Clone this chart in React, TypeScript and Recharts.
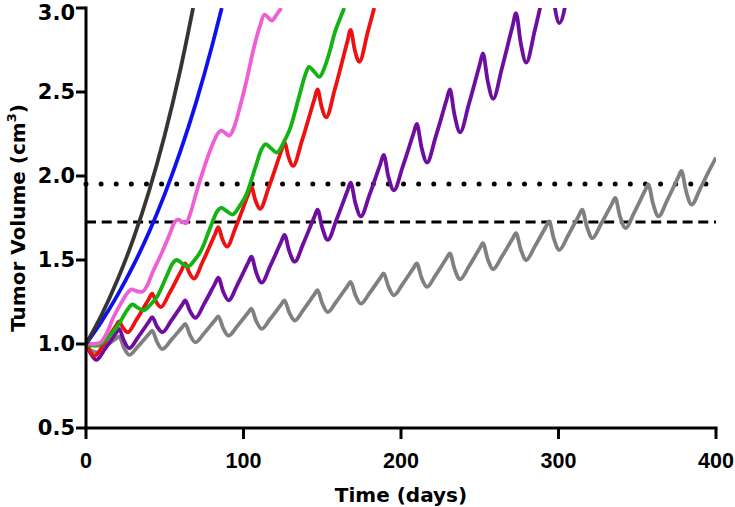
import React from 'react';
import { LineChart, Line, XAxis, YAxis, ReferenceLine } from 'recharts';

type P = [number, number];

const xTicks = [0, 100, 200, 300, 400];
const yTicks = [0.5, 1.0, 1.5, 2.0, 2.5, 3.0];
const dottedLevel = 1.952;
const dashedLevel = 1.726;

const blackSeries: P[] = [
  [0, 1.0], [10, 1.175], [20, 1.382], [30, 1.624], [40, 1.909], [50, 2.244], [60, 2.637], [68, 3.0],
];

const blueSeries: P[] = [
  [0, 1.0], [10, 1.136], [20, 1.291], [30, 1.466], [40, 1.665], [50, 1.892], [60, 2.149], [70, 2.441],
  [80, 2.773], [86.2, 3.0],
];

const pinkSeries: P[] = [
  [0, 1.01], [4, 1.0], [8, 1.003], [13, 1.06], [17, 1.15], [21.5, 1.23], [26, 1.3], [29, 1.325],
  [32, 1.315], [35.5, 1.31], [39, 1.35], [42, 1.42], [48, 1.54], [53, 1.65], [56, 1.72], [58.5, 1.74],
  [61, 1.728], [63.5, 1.718], [66, 1.77], [70, 1.9], [75, 2.05], [80, 2.18], [83.5, 2.25], [86, 2.27],
  [88.5, 2.255], [91, 2.24], [94, 2.29], [98, 2.42], [102, 2.57], [106, 2.74], [110, 2.88], [113.5, 2.96],
  [116, 2.94], [118, 2.925], [121, 2.96], [124, 3.0],
];

const greenSeries: P[] = [
  [0, 1.0], [3.5, 0.992], [7, 0.99], [14, 1.04], [21, 1.12], [26, 1.2], [29.5, 1.235], [33, 1.215],
  [36.5, 1.2], [41, 1.235], [45, 1.28], [51, 1.4], [55, 1.48], [57.5, 1.5], [61, 1.48], [64.5, 1.46],
  [69, 1.5], [73, 1.555], [79, 1.695], [83, 1.785], [86, 1.81], [89.5, 1.79], [93, 1.77],
  [97.5, 1.82], [101.5, 1.883], [107.5, 2.05], [111.5, 2.16], [114, 2.19], [117.5, 2.165], [121, 2.14],
  [125.5, 2.2], [129.5, 2.28], [135.5, 2.48], [139.5, 2.61], [141.5, 2.65], [145, 2.62], [148, 2.59],
  [152, 2.66], [155, 2.75], [158, 2.855], [161, 2.93], [164, 3.0],
];

const redSeries: P[] = [
  [0, 1.0], [2.5, 0.955], [5.5, 0.93], [11, 0.996], [19, 1.108], [21, 1.135],
  [23.5, 1.096], [26.5, 1.07], [32, 1.144], [40, 1.27], [42, 1.3],
  [44.5, 1.252], [47.5, 1.22], [53, 1.303], [61, 1.446], [63, 1.48],
  [65.5, 1.426], [68.5, 1.39], [74, 1.488], [82, 1.655], [84, 1.695],
  [86.5, 1.626], [89.5, 1.58], [95, 1.694], [103, 1.889], [105, 1.935],
  [107.5, 1.857], [110.5, 1.805], [116, 1.931], [124, 2.149], [126, 2.2],
  [128.5, 2.116], [131.5, 2.06], [137, 2.206], [145, 2.457], [147, 2.516],
  [149.5, 2.416], [152.5, 2.35], [158, 2.516], [166, 2.802], [168, 2.87],
  [170.5, 2.756], [173.5, 2.68], [179, 2.86], [183, 3.0],
];

const purpleSeries: P[] = [
  [0, 1.0], [3, 0.943], [6.5, 0.905], [12, 0.97], [19, 1.064], [21, 1.09],
  [24, 1.021], [27.5, 0.975], [33, 1.04], [40, 1.134], [42, 1.16],
  [45, 1.106], [48.5, 1.07], [54, 1.137], [61, 1.233], [63, 1.26],
  [66, 1.197], [69.5, 1.155], [75, 1.239], [82, 1.361], [84, 1.395],
  [87, 1.314], [90.5, 1.26], [96, 1.351], [103, 1.484], [105, 1.52],
  [108, 1.427], [111.5, 1.365], [117, 1.465], [124, 1.61], [126, 1.65],
  [129, 1.554], [132.5, 1.49], [138, 1.599], [145, 1.757], [147, 1.8],
  [150, 1.692], [153.5, 1.62], [159, 1.739], [166, 1.912], [168, 1.96],
  [171, 1.84], [174.5, 1.76], [180, 1.888], [187, 2.074], [189, 2.125],
  [192, 1.996], [195.5, 1.915], [201, 2.053], [208, 2.255], [210, 2.31],
  [213, 2.172], [216.5, 2.08], [222, 2.233], [229, 2.455], [231, 2.516],
  [234, 2.362], [237.5, 2.26], [243, 2.425], [250, 2.664], [252, 2.73],
  [255, 2.568], [258.5, 2.46], [264, 2.639], [271, 2.899], [273, 2.97],
  [276, 2.793], [279.5, 2.675], [285, 2.869], [292, 3.152], [294, 3.23],
  [297, 3.038], [300.5, 2.91], [306, 3.1],
];

const graySeries: P[] = [
  [0, 1.0], [3, 0.965], [7, 0.95], [12, 0.983], [19, 1.032], [21, 1.045],
  [24, 0.979], [27.5, 0.935], [33, 0.986], [40, 1.06], [42, 1.08],
  [45, 1.014], [48.5, 0.97], [54, 1.023], [61, 1.099], [63, 1.12],
  [66, 1.054], [69.5, 1.01], [75, 1.064], [82, 1.143], [84, 1.165],
  [87, 1.096], [90.5, 1.05], [96, 1.106], [103, 1.188], [105, 1.21],
  [108, 1.138], [111.5, 1.09], [117, 1.15], [124, 1.236], [126, 1.26],
  [129, 1.188], [132.5, 1.14], [138, 1.203], [145, 1.295], [147, 1.32],
  [150, 1.242], [153.5, 1.19], [159, 1.253], [166, 1.345], [168, 1.37],
  [171, 1.292], [174.5, 1.24], [180, 1.303], [187, 1.395], [189, 1.42],
  [192, 1.342], [195.5, 1.29], [201, 1.357], [208, 1.453], [210, 1.48],
  [213, 1.396], [216.5, 1.34], [222, 1.41], [229, 1.512], [231, 1.54],
  [234, 1.447], [237.5, 1.385], [243, 1.46], [250, 1.57], [252, 1.6],
  [255, 1.507], [258.5, 1.445], [264, 1.52], [271, 1.63], [273, 1.66],
  [276, 1.564], [279.5, 1.5], [285, 1.581], [292, 1.698], [294, 1.73],
  [297, 1.628], [300.5, 1.56], [306, 1.644], [313, 1.766], [315, 1.8],
  [318, 1.698], [321.5, 1.63], [327, 1.714], [334, 1.836], [336, 1.87],
  [339, 1.762], [342.5, 1.69], [348, 1.781], [355, 1.914], [357, 1.95],
  [360, 1.836], [363.5, 1.76], [369, 1.855], [376, 1.992], [378, 2.03],
  [381, 1.91], [384.5, 1.83], [390, 1.925], [395, 2.02], [400, 2.11],
];

const SANS = '"Liberation Sans", Arial, Helvetica, sans-serif';
const WIDE = '"DejaVu Sans", "Liberation Sans", sans-serif';

const toPts = (s: P[]) => s.map(([t, v]) => ({ t, v }));

const seriesList = [
  { key: 'gray', data: graySeries, color: '#808080' },
  { key: 'purple', data: purpleSeries, color: '#6e0ea0' },
  { key: 'red', data: redSeries, color: '#ee1111' },
  { key: 'green', data: greenSeries, color: '#12b312' },
  { key: 'pink', data: pinkSeries, color: '#ee5fd6' },
  { key: 'blue', data: blueSeries, color: '#1010ee' },
  { key: 'black', data: blackSeries, color: '#353535' },
];

function YTitle(props: any) {
  const vb = props.viewBox || { x: 0, y: 0, width: 86, height: 420 };
  const cy = vb.y + vb.height / 2;
  const bx = vb.x + 25;
  return (
    <text
      transform={`translate(${bx},${cy}) rotate(-90)`}
      textAnchor="middle"
      fontFamily={WIDE}
      fontWeight="bold"
      fontSize={20}
      fill="#000"
    >
      Tumor Volume (cm
      <tspan fontSize={13} dy={-9}>3</tspan>
      <tspan dy={9}>)</tspan>
    </text>
  );
}

function XTitle(props: any) {
  const vb = props.viewBox || { x: 86, y: 428, width: 630, height: 79 };
  return (
    <text
      x={vb.x + vb.width / 2}
      y={vb.y + 74}
      textAnchor="middle"
      fontFamily={WIDE}
      fontWeight="bold"
      fontSize={20}
      fill="#000"
    >
      Time (days)
    </text>
  );
}

export default function App() {
  return (
    <div style={{ position: 'absolute', left: 0, top: 0, background: '#fff' }}>
      <LineChart width={735} height={507} margin={{ top: 8, right: 19, left: 0, bottom: 0 }}>
        <XAxis
          type="number"
          dataKey="t"
          domain={[0, 400]}
          ticks={xTicks}
          allowDataOverflow
          height={79}
          tickSize={11}
          tickMargin={14}
          axisLine={{ stroke: '#000', strokeWidth: 3, strokeLinecap: 'square' }}
          tickLine={{ stroke: '#000', strokeWidth: 3 }}
          tick={{ fontSize: 21.5, fontWeight: 'bold', fill: '#000', fontFamily: SANS }}
          label={XTitle}
        />
        <YAxis
          type="number"
          domain={[0.5, 3]}
          ticks={yTicks}
          allowDataOverflow
          width={86}
          tickSize={10}
          tickMargin={1}
          tickFormatter={(v: number) => v.toFixed(1)}
          axisLine={{ stroke: '#000', strokeWidth: 3, strokeLinecap: 'square' }}
          tickLine={{ stroke: '#000', strokeWidth: 3 }}
          tick={{ fontSize: 21, fontWeight: 'bold', fill: '#000', fontFamily: WIDE }}
          label={YTitle}
        />
        <ReferenceLine
          y={dottedLevel}
          stroke="#000"
          strokeWidth={5}
          strokeDasharray="0 15.12"
          strokeLinecap="round"
        />
        <ReferenceLine y={dashedLevel} stroke="#000" strokeWidth={3} strokeDasharray="10 5.7" />
        {seriesList.map((s) => (
          <Line
            key={s.key}
            data={toPts(s.data)}
            dataKey="v"
            type="monotone"
            stroke={s.color}
            strokeWidth={3.8}
            dot={false}
            activeDot={false}
            isAnimationActive={false}
          />
        ))}
      </LineChart>
    </div>
  );
}
